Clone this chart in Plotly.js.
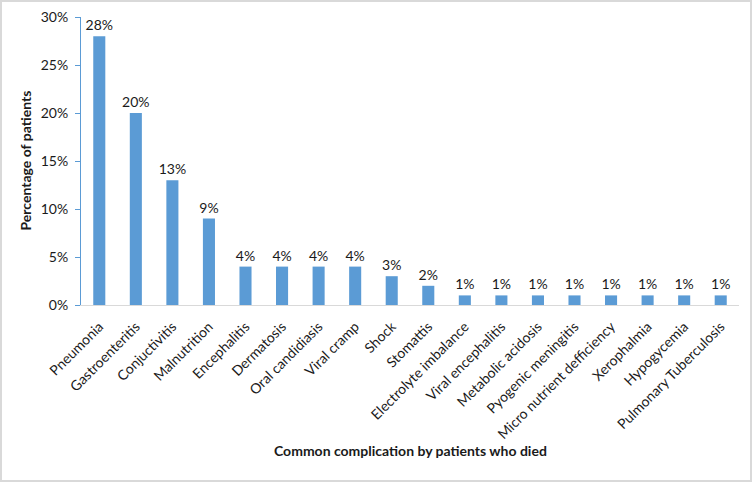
<!DOCTYPE html>
<html>
<head>
<meta charset="utf-8">
<script src="https://cdn.plot.ly/plotly-3.0.1.min.js"></script>
<style>
  html, body { margin: 0; padding: 0; background: #fff; }
  #frame { width: 752px; height: 482px; box-sizing: border-box; border: 2px solid #d9d9d9; }
  #chart { width: 748px; height: 478px; }
</style>
</head>
<body>
<div id="frame"><div id="chart"></div></div>
<script>
var complications = ['Pneumonia', 'Gastroenteritis', 'Conjuctivitis', 'Malnutrition', 'Encephalitis',
  'Dermatosis', 'Oral candidiasis', 'Viral cramp', 'Shock', 'Stomattis', 'Electrolyte imbalance',
  'Viral encephalitis', 'Metabolic acidosis', 'Pyogenic meningitis', 'Micro nutrient defficiency',
  'Xerophalmia', 'Hypogycemia', 'Pulmonary Tuberculosis'];
var percentages = [0.28, 0.20, 0.13, 0.09, 0.04, 0.04, 0.04, 0.04, 0.03, 0.02,
  0.01, 0.01, 0.01, 0.01, 0.01, 0.01, 0.01, 0.01];
var yTicks = [0, 0.05, 0.10, 0.15, 0.20, 0.25, 0.30];

var trace = {
  x: complications,
  y: percentages,
  type: 'bar',
  marker: { color: '#5b9bd5' },
  text: percentages.map(function (v) { return Math.round(v * 100) + '%'; }),
  textposition: 'outside',
  constraintext: 'none',
  cliponaxis: false,
  textfont: { family: 'Lato, sans-serif', size: 14, color: '#1a1a1a' },
  hoverinfo: 'x+y'
};

var layout = {
  width: 748,
  height: 478,
  margin: { l: 79, r: 11, t: 15, b: 175 },
  paper_bgcolor: '#fff',
  plot_bgcolor: '#fff',
  bargap: 0.67,
  showlegend: false,
  font: { family: 'Lato, sans-serif', size: 14, color: '#1a1a1a' },
  xaxis: {
    tickangle: -45,
    showline: true,
    linecolor: '#d9d9d9',
    linewidth: 1,
    ticks: '',
    showgrid: false,
    automargin: false,
    ticklabelstandoff: 7,
    tickfont: { size: 14 }
  },
  yaxis: {
    range: [0, 0.30],
    tickvals: yTicks,
    tickformat: '.0%',
    showline: true,
    linecolor: '#5b9bd5',
    linewidth: 1,
    ticks: 'outside',
    ticklen: 5,
    tickcolor: '#5b9bd5',
    showgrid: false,
    zeroline: false,
    automargin: false,
    ticklabelstandoff: 4,
    tickfont: { size: 14 }
  },
  annotations: [
    {
      text: '<b>Common complication by patients who died</b>',
      xref: 'paper', yref: 'paper', x: 0.5, y: 0,
      yshift: -156, showarrow: false, font: { size: 14, color: '#1a1a1a' }
    },
    {
      text: '<b>Percentage of patients</b>',
      xref: 'paper', yref: 'paper', x: 0, y: 0.5,
      xshift: -67, textangle: -90, showarrow: false, font: { size: 14, color: '#1a1a1a' }
    }
  ]
};

Plotly.newPlot('chart', [trace], layout, { displayModeBar: false, staticPlot: true });
</script>
</body>
</html>
